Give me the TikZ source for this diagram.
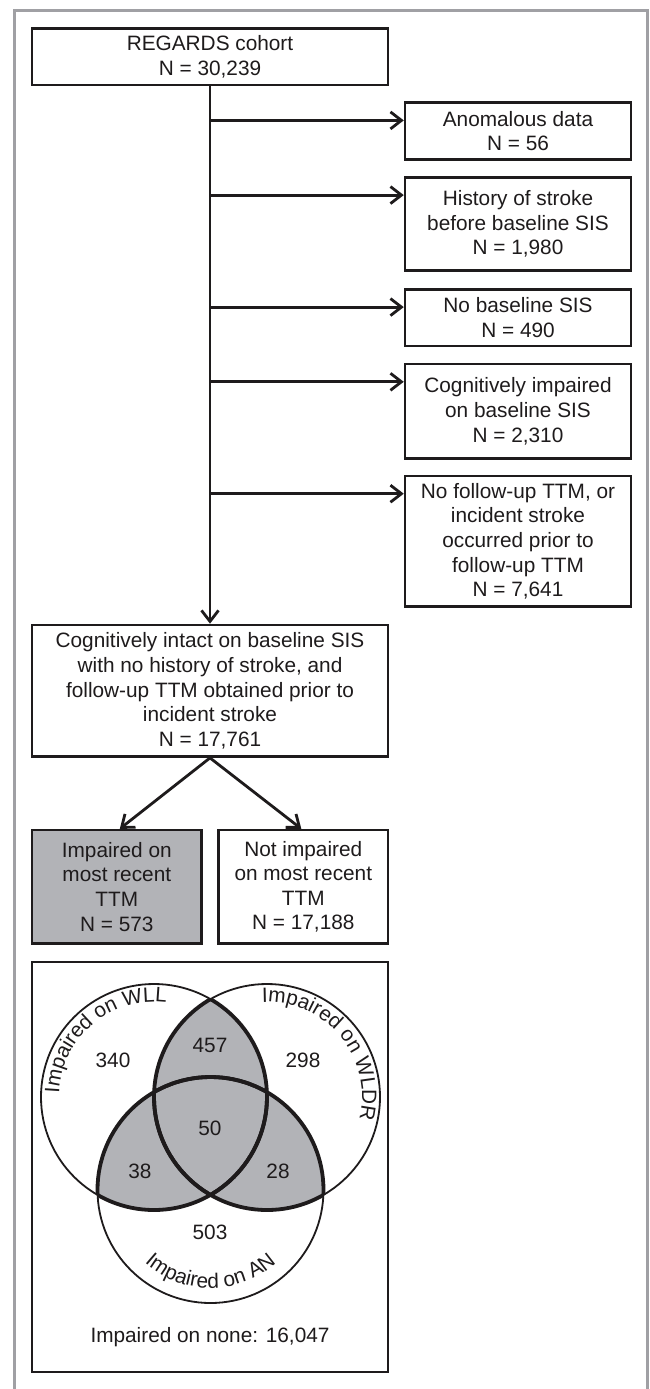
\documentclass[tikz,border=0pt]{standalone}
\usepackage{fontspec}
\setmainfont{Liberation Sans}
\usetikzlibrary{arrows.meta,calc}
\definecolor{ink}{RGB}{30,27,28}
\definecolor{framegray}{RGB}{160,160,164}
\definecolor{shadegray}{RGB}{178,179,183}
\newcommand\boxfont{\fontsize{20.8}{24.6}\selectfont}
% text set character by character along a circular arc
% #1 centre, #2 radius, #3 start angle, #4 direction (-1 clockwise, 1 anticlockwise),
% #5 name prefix, #6 list of character/advance (in 1/1000 em)
\newcommand\arclabel[6]{%
  \xdef\arccur{#3}%
  \foreach \c/\w [count=\i] in {#6}{%
    \pgfmathsetmacro\arcstep{\w*0.0208/#2*57.29578}%
    \pgfmathsetmacro\arcmid{\arccur + #4*0.5*\arcstep}%
    \pgfmathsetmacro\arcrot{\arcmid + #4*90}%
    \node[arcchar, rotate=\arcrot] (#5\i) at ($(#1)+(\arcmid:#2)$) {\c};
    \pgfmathsetmacro\arcnext{\arccur + #4*\arcstep}%
    \xdef\arccur{\arcnext}%
  }}
\begin{document}
\begin{tikzpicture}[x=1pt,y=1pt,
  box/.style={draw=ink, line width=2.5pt, align=center, inner sep=0pt, font=\boxfont, text=ink},
  arr/.style={draw=ink, line width=2.8pt, -{Straight Barb[length=11pt,width=17pt]}},
  num/.style={font=\boxfont, text=ink, inner sep=0pt},
  arcchar/.style={font=\boxfont, text=ink, inner sep=0pt, anchor=base},
  vthin/.style={draw=ink, line width=1.8pt},
  vthick/.style={draw=ink, line width=3.8pt},
]
\useasboundingbox (0,0) rectangle (649,-1389);
\fill[white] (0,0) rectangle (649,-1389);
\draw[framegray, line width=3pt] (14.5,-1389) -- (14.5,-10.5) -- (647.5,-10.5) -- (647.5,-1389);

% flow boxes
\node[box, minimum width=356pt, minimum height=56.7pt] (regards) at (210,-56.7) {REGARDS cohort\\N = 30,239};
\node[box, minimum width=226pt, minimum height=56.7pt] (anom) at (518,-131) {Anomalous data\\N = 56};
\node[box, minimum width=226pt, minimum height=93.3pt] (hist) at (518,-224) {History of stroke\\before baseline SIS\\N = 1,980};
\node[box, minimum width=226pt, minimum height=56.7pt] (nobase) at (518,-317.7) {No baseline SIS\\N = 490};
\node[box, minimum width=226pt, minimum height=94.3pt] (cogimp) at (518,-411.2) {Cognitively impaired\\on baseline SIS\\N = 2,310};
\node[box, minimum width=226pt, minimum height=130.7pt] (nofu) at (518,-541.3) {No follow-up TTM, or\\incident stroke\\occurred prior to\\follow-up TTM\\N = 7,641};
\node[box, minimum width=356pt, minimum height=131.7pt] (intact) at (210,-690.8) {Cognitively intact on baseline SIS\\with no history of stroke, and\\follow-up TTM obtained prior to\\incident stroke\\N = 17,761};
\node[box, fill=shadegray, minimum width=169.6pt, minimum height=113.3pt] (imp) at (116.8,-886.7) {Impaired on\\most recent\\TTM\\N = 573};
\node[box, minimum width=169.5pt, minimum height=113.3pt] (notimp) at (303.3,-886.7) {Not impaired\\on most recent\\TTM\\N = 17,188};
\node[box, minimum width=356pt, minimum height=410pt] (venn) at (210,-1167) {};

% connectors
\draw[arr] (regards.south) -- (intact.north);
\foreach \b in {anom,hist,nobase,cogimp,nofu}{
  \draw[arr] ([yshift=-19pt]\b.north west -| regards.south) -- ([yshift=-19pt]\b.north west);
}
\draw[arr] (intact.south) -- ([xshift=3pt]imp.north);
\draw[arr] (intact.south) -- ([xshift=-2pt]notimp.north);

% Venn diagram
\coordinate (A) at (154,-1097);
\coordinate (B) at (267,-1097);
\coordinate (C) at (210.5,-1190);
\begin{scope}
  \clip (A) circle (113);
  \fill[shadegray] (B) circle (113);
  \fill[shadegray] (C) circle (113);
\end{scope}
\begin{scope}
  \clip (B) circle (113);
  \fill[shadegray] (C) circle (113);
\end{scope}
\draw[vthin] (A) circle (113) (B) circle (113) (C) circle (113);
\begin{scope}
  \clip (B) circle (113);
  \draw[vthick] (A) circle (113) (C) circle (113);
\end{scope}
\begin{scope}
  \clip (A) circle (113);
  \draw[vthick] (B) circle (113) (C) circle (113);
\end{scope}
\begin{scope}
  \clip (C) circle (113);
  \draw[vthick] (A) circle (113) (B) circle (113);
\end{scope}

\arclabel{A}{95}{178}{-1}{wll}{I/278,m/833,p/556,a/556,i/222,r/333,e/556,d/556,~/278,o/556,n/556,~/278,W/944,L/556,L/556}
\arclabel{B}{95}{93}{-1}{wldr}{I/278,m/833,p/556,a/556,i/222,r/333,e/556,d/556,~/278,o/556,n/556,~/278,W/944,L/556,D/722,R/722}
\arclabel{C}{98}{227.76}{1}{an}{I/278,m/833,p/556,a/556,i/222,r/333,e/556,d/556,~/278,o/556,n/556,~/278,A/667,N/722}

\node[num] (n340) at (113,-1060) {340};
\node[num] (n457) at (210,-1045) {457};
\node[num] (n298) at (303,-1060) {298};
\node[num] (n50) at (210,-1128) {50};
\node[num] (n38) at (140,-1171) {38};
\node[num] (n28) at (278,-1171) {28};
\node[num] (n503) at (210,-1232) {503};
\node[num] (none) at (210,-1337) {Impaired on none: 16,047};
\end{tikzpicture}
\end{document}
